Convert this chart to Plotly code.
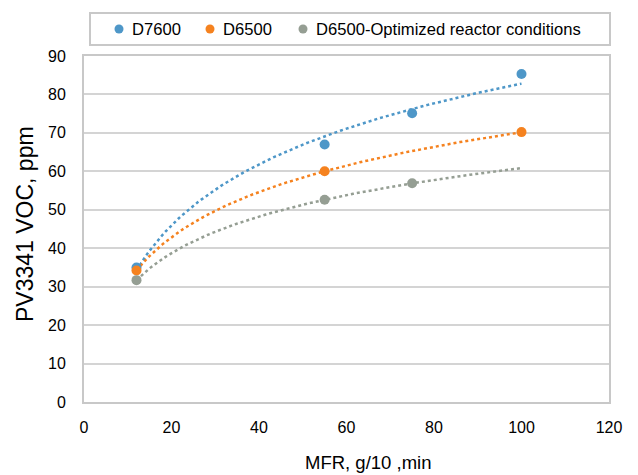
import numpy as np
import plotly.graph_objects as go

# ---- data ----
series_names = ["D7600", "D6500", "D6500-Optimized reactor conditions"]
d7600_x = [12, 55, 75, 100]
d7600_y = [35.0, 67.0, 75.1, 85.3]
d6500_x = [12, 55, 100]
d6500_y = [34.2, 60.0, 70.2]
d6500opt_x = [12, 55, 75]
d6500opt_y = [31.7, 52.6, 56.9]

x_ticks = [0, 20, 40, 60, 80, 100, 120]
y_ticks = [0, 10, 20, 30, 40, 50, 60, 70, 80, 90]

colors = ["#4E97C8", "#F5821F", "#959E93"]
font_family = "Liberation Sans, Arial, sans-serif"

W, H = 638, 475
L, R, T, B = 84, 29, 56, 73
pw, ph = W - L - R, H - T - B

fig = go.Figure()

all_series = [(d7600_x, d7600_y), (d6500_x, d6500_y), (d6500opt_x, d6500opt_y)]
trend_end = max(max(s[0]) for s in all_series)

for (xs, ys), name, c in zip(all_series, series_names, colors):
    # logarithmic trendline (least squares fit y = a + b ln x), as in the source chart
    b, a = np.polyfit(np.log(xs), ys, 1)
    tx = np.linspace(min(xs), trend_end, 120)
    fig.add_trace(go.Scatter(x=tx, y=a + b * np.log(tx), mode="lines",
                             line=dict(color=c, width=2.5, dash="dot"),
                             showlegend=False, hoverinfo="skip"))
for (xs, ys), name, c in zip(all_series, series_names, colors):
    fig.add_trace(go.Scatter(x=xs, y=ys, mode="markers", name=name,
                             marker=dict(color=c, size=10, line=dict(width=0)),
                             showlegend=False))

axis_common = dict(showline=True, linecolor="#C8C8C8", linewidth=2, mirror=True,
                   zeroline=False, ticks="",
                   tickfont=dict(family=font_family, size=16, color="#000000"))
fig.update_xaxes(range=[0, 120], tickvals=x_ticks, showgrid=False,
                 ticklabelstandoff=10, **axis_common)
fig.update_yaxes(range=[0, 90], tickvals=y_ticks, showgrid=True,
                 gridcolor="#D4D4D4", gridwidth=2, ticklabelstandoff=13,
                 **axis_common)

def px_x(p):
    return (p - L) / pw

def px_y(p):
    return (H - B - p) / ph

annotations = [
    dict(text="MFR, g/10 ,min", x=px_x(368), y=px_y(462), xref="paper", yref="paper",
         showarrow=False, font=dict(family=font_family, size=18.5, color="#000000"),
         xanchor="center", yanchor="middle"),
    dict(text="PV3341 VOC, ppm", x=px_x(25), y=px_y(224), xref="paper", yref="paper",
         showarrow=False, textangle=-90,
         font=dict(family=font_family, size=23, color="#000000"),
         xanchor="center", yanchor="middle"),
]
shapes = [
    dict(type="rect", xref="paper", yref="paper",
         x0=px_x(90), x1=px_x(610), y0=px_y(45), y1=px_y(13),
         line=dict(color="#C8C8C8", width=2), fillcolor="rgba(0,0,0,0)"),
]
legend_marker_px = [119, 210, 303]
for name, c, mx in zip(series_names, colors, legend_marker_px):
    shapes.append(dict(type="circle", xref="paper", yref="paper",
                       x0=px_x(mx - 4.5), x1=px_x(mx + 4.5),
                       y0=px_y(29 + 4.5), y1=px_y(29 - 4.5),
                       fillcolor=c, line=dict(width=0)))
    annotations.append(dict(text=name, x=px_x(mx + 11), y=px_y(29.5),
                            xref="paper", yref="paper", showarrow=False,
                            xanchor="left", yanchor="middle",
                            font=dict(family=font_family, size=16.6, color="#000000")))

fig.update_layout(width=W, height=H, margin=dict(l=L, r=R, t=T, b=B),
                  plot_bgcolor="white", paper_bgcolor="white",
                  annotations=annotations, shapes=shapes, showlegend=False)

fig.write_html("out.html")
